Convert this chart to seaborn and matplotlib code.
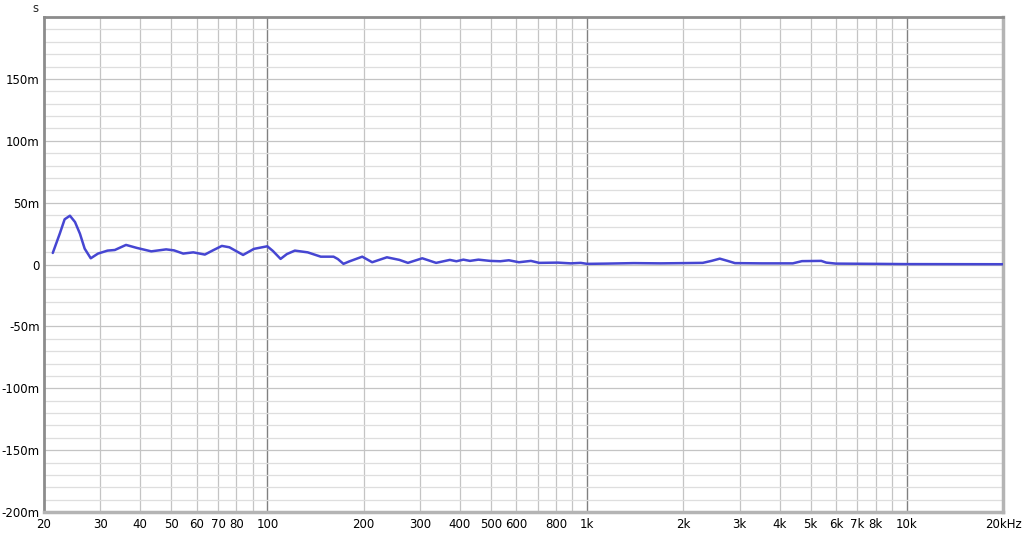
import matplotlib
matplotlib.use("Agg")
from matplotlib import pyplot as plt
from matplotlib.ticker import FixedLocator, NullFormatter
import pandas as pd
import seaborn as sns

# group delay curve (Hz, milliseconds)
freq_hz = [21.3, 22.4, 23.2, 24.1, 25.0, 25.9, 26.8, 28.0, 29.5, 31.6, 33.3,
           36.1, 39.0, 43.3, 48.2, 51.0, 54.5, 58.6, 63.7, 67.5, 72.0, 76.0,
           83.9, 90.7, 99.9, 104, 109.9, 115, 121.8, 133.6, 146.8, 161, 166,
           172.9, 180, 197.9, 212.6, 236.4, 258.7, 275, 305, 337, 372, 390,
           410, 430, 457, 497, 535, 569, 612, 667, 708, 810, 889, 955, 1000,
           1150, 1400, 1700, 2000, 2300, 2450, 2600, 2750, 2900, 3500, 4400,
           4700, 5400, 5600, 6000, 8000, 10000, 20000]
delay_ms = [9.4, 25, 36.6, 39.5, 34.4, 25, 12.9, 5.1, 8.9, 11.3, 11.8,
            15.9, 13.5, 10.7, 12.3, 11.5, 8.9, 9.9, 8.1, 11.5, 15.1, 14,
            7.8, 12.7, 14.8, 11, 4.6, 8.5, 11.3, 9.9, 6.4, 6.4, 4.5,
            0.6, 2.5, 6.4, 1.9, 5.9, 3.8, 1.4, 5.1, 1.4, 3.8, 2.7,
            4.0, 3.0, 4.0, 3.0, 2.7, 3.5, 1.9, 3.0, 1.4, 1.6, 1.0, 1.4, 0.6,
            0.8, 1.2, 1.0, 1.2, 1.4, 3.0, 4.8, 3.0, 1.2, 1.0, 1.0,
            2.8, 3.0, 1.6, 0.8, 0.6, 0.4, 0.3]

x_ticks = [20, 30, 40, 50, 60, 70, 80, 100, 200, 300, 400, 500, 600, 800,
           1000, 2000, 3000, 4000, 5000, 6000, 7000, 8000, 10000, 20000]
x_labels = ["20", "30", "40", "50", "60", "70", "80", "100", "200", "300",
            "400", "500", "600", "800", "1k", "2k", "3k", "4k", "5k", "6k",
            "7k", "8k", "10k", "20kHz"]
y_ticks = [-200, -150, -100, -50, 0, 50, 100, 150]
y_labels = ["-200m", "-150m", "-100m", "-50m", "0", "50m", "100m", "150m"]

df = pd.DataFrame({"freq": freq_hz, "delay": delay_ms})

sns.set_style("white")
plt.rcParams['font.family'] = ['DejaVu Sans']

fig = plt.figure(figsize=(10.24, 5.34), dpi=100)
ax = fig.add_axes([0.043, 0.041, 0.9365, 0.927])

# grid: every 1..9 per decade, decades darker
minor_v = [m * d for d in (10, 100, 1000, 10000) for m in range(2, 10)
           if 20 < m * d < 20000]
for f in minor_v:
    ax.axvline(f, color="#c4c4c4", lw=0.9, zorder=0)
for f in (100, 1000, 10000):
    ax.axvline(f, color="#808080", lw=1.0, zorder=0)
for v in range(-190, 200, 10):
    c = "#c4c4c4" if v % 50 == 0 else "#dedede"
    ax.axhline(v, color=c, lw=0.9, zorder=0)

sns.lineplot(data=df, x="freq", y="delay", ax=ax, color="#4646d2",
             lw=1.8, zorder=3)

ax.set_xscale("log")
ax.set_xlim(20, 20000)
ax.set_ylim(-200, 200)
ax.xaxis.set_minor_locator(FixedLocator([]))
ax.xaxis.set_minor_formatter(NullFormatter())
ax.set_xticks(x_ticks)
ax.set_xticklabels(x_labels)
ax.set_yticks(y_ticks)
ax.set_yticklabels(y_labels)
ax.tick_params(axis="y", length=0, labelsize=8.5, colors="#000000", pad=3)
ax.tick_params(axis="x", length=0, labelsize=8.5, colors="#000000", pad=4)
ax.set_xlabel("")
ax.set_ylabel("")

for side in ("left", "top"):
    ax.spines[side].set_color("#8c8c8c")
    ax.spines[side].set_linewidth(2.0)
for side in ("right", "bottom"):
    ax.spines[side].set_color("#b4b4b4")
    ax.spines[side].set_linewidth(2.5)

fig.text(0.035, 0.985, "s", fontsize=8.5, ha="center", va="center")

fig.savefig("out.png", dpi=100, facecolor="white")
